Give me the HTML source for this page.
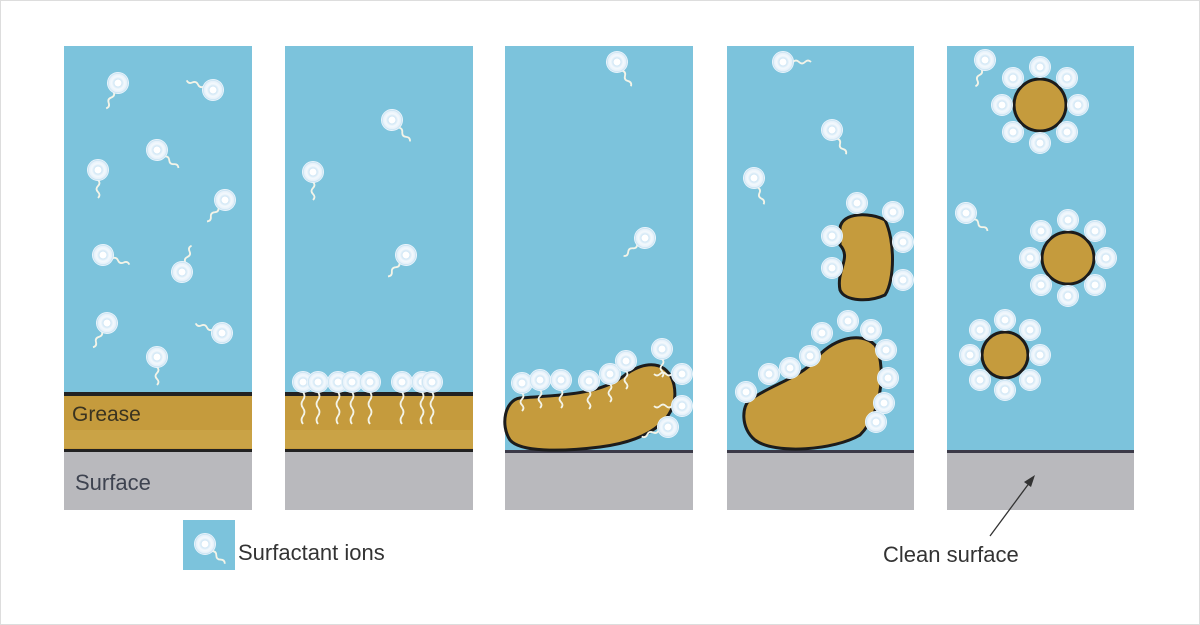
<!DOCTYPE html>
<html><head><style>
html,body{margin:0;padding:0;background:#fff;width:1200px;height:625px;overflow:hidden}
svg{display:block}
text{font-family:"Liberation Sans",sans-serif}
</style></head><body>
<svg width="1200" height="625" viewBox="0 0 1200 625">
<defs>
<radialGradient id="ig" cx="50%" cy="50%" r="50%">
<stop offset="0" stop-color="#ffffff"/><stop offset="0.35" stop-color="#cfe6f5"/><stop offset="0.6" stop-color="#f4f9fd"/><stop offset="0.85" stop-color="#e6f1fa"/><stop offset="1" stop-color="#a9d4ea"/>
</radialGradient>
<g id="h"><circle r="10.5" fill="url(#ig)" stroke="#e8f3fb" stroke-width="1"/><circle r="3.5" fill="#fff"/></g>
<g id="ion"><path d="M0,10 q3,3 0,6 q-3,3 0,6 q3,3 0,6" fill="none" stroke="#f4f4e8" stroke-width="1.8"/><use href="#h"/></g>
<g id="lion"><path d="M0,10 q3,4 0,8 q-3,4 0,8 q3,4 0,8 q-3,4 0,8" fill="none" stroke="#f4f4e8" stroke-width="1.8"/><use href="#h"/></g>
</defs>
<rect x="0.5" y="0.5" width="1199" height="624" fill="#fff" stroke="#ddd"/>
<g>
<rect x="64" y="46" width="188" height="406" fill="#7cc3dc"/>
<rect x="285" y="46" width="188" height="406" fill="#7cc3dc"/>
<rect x="505" y="46" width="188" height="406" fill="#7cc3dc"/>
<rect x="727" y="46" width="187" height="406" fill="#7cc3dc"/>
<rect x="947" y="46" width="187" height="406" fill="#7cc3dc"/>
<g fill="#b9b9bd">
<rect x="64" y="452" width="188" height="58"/><rect x="285" y="452" width="188" height="58"/><rect x="505" y="452" width="188" height="58"/><rect x="727" y="452" width="187" height="58"/><rect x="947" y="452" width="187" height="58"/>
</g>
<g fill="#3b3a48"><rect x="505" y="450" width="188" height="3"/><rect x="727" y="450" width="187" height="3"/><rect x="947" y="450" width="187" height="3"/></g>
<rect x="64" y="393" width="188" height="59" fill="#c59b3d"/>
<rect x="285" y="393" width="188" height="59" fill="#c59b3d"/>
<rect x="64" y="430" width="188" height="18" fill="#d4b35a" opacity="0.35"/>
<rect x="285" y="430" width="188" height="18" fill="#d4b35a" opacity="0.35"/>
<g fill="#222"><rect x="64" y="392" width="188" height="4"/><rect x="285" y="392" width="188" height="4"/><rect x="64" y="449" width="188" height="3"/><rect x="285" y="449" width="188" height="3"/></g>
<text x="72" y="421" font-size="21" fill="#3a3320">Grease</text>
<text x="75" y="490" font-size="22" fill="#3e4350">Surface</text>
</g>
<g fill="#c59b3d" stroke="#1c1c1c" stroke-width="3">
<path d="M520,398 C560,395 600,395 625,375 C645,360 668,360 674,385 C680,415 655,440 600,447 C560,452 520,452 510,440 C500,425 505,400 520,398 Z"/>
<path d="M840,228 C842,212 870,212 885,220 C895,240 895,280 885,295 C870,302 845,302 840,290 C836,270 852,258 840,245 Z"/>
<path d="M750,400 C770,385 800,378 815,360 C830,340 860,330 875,345 C885,360 885,410 860,435 C835,450 775,455 755,440 C740,428 742,405 750,400 Z"/>
<circle cx="1040" cy="105" r="26"/>
<circle cx="1068" cy="258" r="26"/>
<circle cx="1005" cy="355" r="23"/>
</g>
<use href="#ion" transform="translate(118,83) rotate(25)"/>
<use href="#ion" transform="translate(213,90) rotate(110)"/>
<use href="#ion" transform="translate(157,150) rotate(-50)"/>
<use href="#ion" transform="translate(98,170)"/>
<use href="#ion" transform="translate(225,200) rotate(40)"/>
<use href="#ion" transform="translate(103,255) rotate(-70)"/>
<use href="#ion" transform="translate(182,272) rotate(200)"/>
<use href="#ion" transform="translate(107,323) rotate(30)"/>
<use href="#ion" transform="translate(222,333) rotate(110)"/>
<use href="#ion" transform="translate(157,357)"/>
<use href="#ion" transform="translate(392,120) rotate(-40)"/>
<use href="#ion" transform="translate(313,172)"/>
<use href="#ion" transform="translate(406,255) rotate(40)"/>
<g transform="translate(0,382)">
<use href="#lion" transform="translate(303,0)"/><use href="#lion" transform="translate(318,0)"/><use href="#lion" transform="translate(338,0)"/><use href="#lion" transform="translate(352,0)"/><use href="#lion" transform="translate(370,0)"/><use href="#lion" transform="translate(402,0)"/><use href="#lion" transform="translate(422,0)"/><use href="#lion" transform="translate(432,0)"/>
</g>
<use href="#ion" transform="translate(617,62) rotate(-30)"/>
<use href="#ion" transform="translate(645,238) rotate(50)"/>
<use href="#ion" transform="translate(522,383)"/><use href="#ion" transform="translate(540,380)"/><use href="#ion" transform="translate(561,380)"/><use href="#ion" transform="translate(589,381)"/><use href="#ion" transform="translate(610,374)"/><use href="#ion" transform="translate(626,361)"/><use href="#ion" transform="translate(662,349)"/>
<use href="#ion" transform="translate(682,374) rotate(90)"/><use href="#ion" transform="translate(682,406) rotate(90)"/><use href="#ion" transform="translate(668,427) rotate(70)"/>
<use href="#ion" transform="translate(783,62) rotate(-90)"/>
<use href="#ion" transform="translate(832,130) rotate(-30)"/>
<use href="#ion" transform="translate(754,178) rotate(-20)"/>
<use href="#h" transform="translate(857,203)"/><use href="#h" transform="translate(893,212)"/><use href="#h" transform="translate(832,236)"/><use href="#h" transform="translate(903,242)"/><use href="#h" transform="translate(832,268)"/><use href="#h" transform="translate(903,280)"/>
<use href="#h" transform="translate(746,392)"/><use href="#h" transform="translate(769,374)"/><use href="#h" transform="translate(790,368)"/><use href="#h" transform="translate(810,356)"/><use href="#h" transform="translate(822,333)"/><use href="#h" transform="translate(848,321)"/><use href="#h" transform="translate(871,330)"/><use href="#h" transform="translate(886,350)"/><use href="#h" transform="translate(888,378)"/><use href="#h" transform="translate(884,403)"/><use href="#h" transform="translate(876,422)"/>
<use href="#ion" transform="translate(985,60) rotate(20)"/>
<use href="#ion" transform="translate(966,213) rotate(-50)"/>
<g transform="translate(1040,105)"><use href="#h" transform="translate(0,-38)"/><use href="#h" transform="translate(27,-27)"/><use href="#h" transform="translate(38,0)"/><use href="#h" transform="translate(27,27)"/><use href="#h" transform="translate(0,38)"/><use href="#h" transform="translate(-27,27)"/><use href="#h" transform="translate(-38,0)"/><use href="#h" transform="translate(-27,-27)"/></g>
<g transform="translate(1068,258)"><use href="#h" transform="translate(0,-38)"/><use href="#h" transform="translate(27,-27)"/><use href="#h" transform="translate(38,0)"/><use href="#h" transform="translate(27,27)"/><use href="#h" transform="translate(0,38)"/><use href="#h" transform="translate(-27,27)"/><use href="#h" transform="translate(-38,0)"/><use href="#h" transform="translate(-27,-27)"/></g>
<g transform="translate(1005,355)"><use href="#h" transform="translate(0,-35)"/><use href="#h" transform="translate(25,-25)"/><use href="#h" transform="translate(35,0)"/><use href="#h" transform="translate(25,25)"/><use href="#h" transform="translate(0,35)"/><use href="#h" transform="translate(-25,25)"/><use href="#h" transform="translate(-35,0)"/><use href="#h" transform="translate(-25,-25)"/></g>
<rect x="183" y="520" width="52" height="50" fill="#7cc3dc"/>
<use href="#ion" transform="translate(205,544) rotate(-45)"/>
<text x="238" y="560" font-size="22" fill="#333">Surfactant ions</text>
<text x="883" y="562" font-size="22" fill="#333">Clean surface</text>
<line x1="990" y1="536" x2="1030" y2="482" stroke="#333" stroke-width="1.3"/>
<path d="M1035,475 L1024,482 L1031,487 Z" fill="#333"/>
</svg>
</body></html>
